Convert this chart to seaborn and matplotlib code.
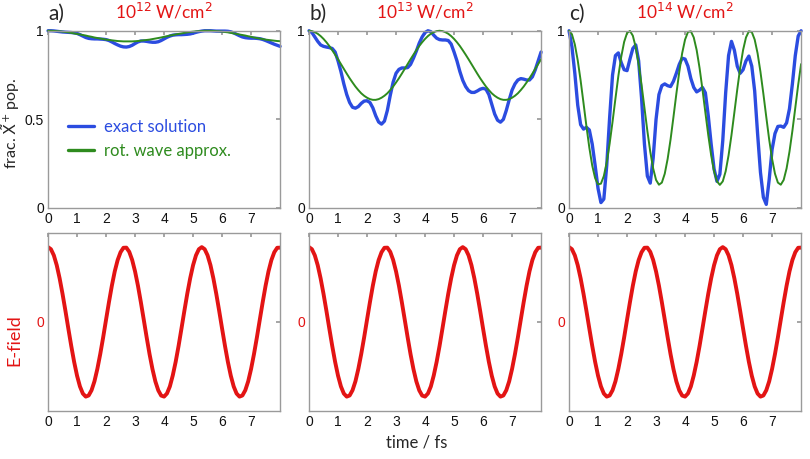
import numpy as np
import pandas as pd
import matplotlib.pyplot as plt
import seaborn as sns

# sample times (fs)
time_fs = np.linspace(0, 8, 81)

# E-field (arbitrary units), same in all three columns
efield = [1.000, 0.972, 0.890, 0.758, 0.582, 0.375, 0.148, -0.089, -0.320, -0.534,
          -0.718, -0.862, -0.957, -0.998, -0.983, -0.913, -0.794, -0.628, -0.429, -0.207,
          0.030, 0.264, 0.484, 0.676, 0.827, 0.932, 0.991, 0.993, 0.937, 0.829,
          0.675, 0.484, 0.264, 0.030, -0.206, -0.431, -0.630, -0.795, -0.914, -0.984,
          -0.998, -0.956, -0.862, -0.715, -0.533, -0.321, -0.088, 0.148, 0.377, 0.583,
          0.758, 0.890, 0.972, 1.000, 0.972, 0.890, 0.758, 0.582, 0.375, 0.148,
          -0.089, -0.320, -0.534, -0.718, -0.862, -0.957, -0.998, -0.983, -0.913, -0.794,
          -0.628, -0.429, -0.207, 0.030, 0.264, 0.484, 0.676, 0.827, 0.932, 0.991, 0.993]

# a) 1e12 W/cm2
exact_a = [1.000, 1.000, 0.999, 0.997, 0.995, 0.993, 0.992, 0.991, 0.990, 0.988,
           0.985, 0.978, 0.970, 0.962, 0.957, 0.955, 0.954, 0.954, 0.953, 0.952,
           0.950, 0.945, 0.937, 0.928, 0.920, 0.913, 0.909, 0.908, 0.911, 0.918,
           0.928, 0.937, 0.942, 0.942, 0.940, 0.937, 0.935, 0.935, 0.938, 0.945,
           0.954, 0.963, 0.970, 0.975, 0.977, 0.978, 0.978, 0.979, 0.980, 0.982,
           0.986, 0.991, 0.995, 0.998, 1.000, 1.000, 1.000, 0.999, 0.998, 0.998,
           0.998, 0.998, 0.997, 0.994, 0.988, 0.980, 0.972, 0.965, 0.961, 0.959,
           0.958, 0.958, 0.957, 0.955, 0.951, 0.945, 0.938, 0.931, 0.924, 0.918, 0.912]
rwa_a = [1.000, 1.000, 0.999, 0.998, 0.997, 0.995, 0.993, 0.991, 0.988, 0.985,
         0.982, 0.979, 0.976, 0.973, 0.969, 0.966, 0.962, 0.959, 0.956, 0.953,
         0.950, 0.948, 0.946, 0.944, 0.942, 0.941, 0.940, 0.940, 0.940, 0.940,
         0.941, 0.942, 0.944, 0.946, 0.948, 0.950, 0.953, 0.956, 0.959, 0.962,
         0.966, 0.969, 0.973, 0.976, 0.979, 0.982, 0.985, 0.988, 0.991, 0.993,
         0.995, 0.997, 0.998, 0.999, 1.000, 1.000, 1.000, 0.999, 0.998, 0.997,
         0.995, 0.993, 0.991, 0.988, 0.985, 0.982, 0.979, 0.976, 0.973, 0.969,
         0.966, 0.962, 0.959, 0.956, 0.953, 0.950, 0.948, 0.946, 0.944, 0.942, 0.941]

# b) 1e13 W/cm2
exact_b = [1.000, 0.990, 0.965, 0.940, 0.920, 0.912, 0.908, 0.905, 0.900, 0.880,
           0.830, 0.770, 0.700, 0.640, 0.595, 0.568, 0.563, 0.572, 0.590, 0.603,
           0.605, 0.595, 0.565, 0.520, 0.485, 0.473, 0.490, 0.550, 0.635, 0.710,
           0.760, 0.782, 0.790, 0.790, 0.792, 0.810, 0.845, 0.885, 0.930, 0.965,
           0.990, 1.000, 0.995, 0.975, 0.958, 0.950, 0.948, 0.948, 0.945, 0.925,
           0.880, 0.830, 0.770, 0.720, 0.685, 0.662, 0.652, 0.652, 0.660, 0.670,
           0.675, 0.670, 0.640, 0.585, 0.530, 0.495, 0.484, 0.500, 0.550, 0.610,
           0.665, 0.700, 0.722, 0.730, 0.727, 0.722, 0.722, 0.740, 0.780, 0.830, 0.880]
rwa_b = [1.000, 0.998, 0.992, 0.983, 0.970, 0.954, 0.935, 0.914, 0.890, 0.865,
         0.839, 0.812, 0.785, 0.758, 0.732, 0.708, 0.685, 0.665, 0.647, 0.633,
         0.622, 0.614, 0.610, 0.610, 0.614, 0.622, 0.633, 0.647, 0.665, 0.685,
         0.708, 0.732, 0.758, 0.785, 0.812, 0.839, 0.865, 0.890, 0.914, 0.935,
         0.954, 0.970, 0.983, 0.992, 0.998, 1.000, 0.998, 0.992, 0.983, 0.970,
         0.954, 0.935, 0.914, 0.890, 0.865, 0.839, 0.812, 0.785, 0.758, 0.732,
         0.708, 0.685, 0.665, 0.647, 0.633, 0.622, 0.614, 0.610, 0.610, 0.614,
         0.622, 0.633, 0.647, 0.665, 0.685, 0.708, 0.732, 0.758, 0.785, 0.812, 0.839]

# c) 1e14 W/cm2
exact_c = [1.000, 0.910, 0.760, 0.580, 0.470, 0.445, 0.455, 0.440, 0.360, 0.240,
           0.110, 0.030, 0.050, 0.240, 0.510, 0.750, 0.860, 0.875, 0.820, 0.780,
           0.775, 0.840, 0.900, 0.920, 0.830, 0.620, 0.360, 0.180, 0.140, 0.280,
           0.500, 0.640, 0.690, 0.700, 0.690, 0.685, 0.715, 0.760, 0.810, 0.845,
           0.840, 0.800, 0.730, 0.680, 0.655, 0.665, 0.680, 0.650, 0.520, 0.360,
           0.220, 0.150, 0.190, 0.380, 0.650, 0.860, 0.940, 0.890, 0.800, 0.760,
           0.780, 0.830, 0.857, 0.800, 0.660, 0.420, 0.200, 0.060, 0.020, 0.160,
           0.330, 0.420, 0.460, 0.462, 0.455, 0.480, 0.560, 0.700, 0.860, 0.970, 1.000]
rwa_c = [1.000, 0.980, 0.923, 0.833, 0.719, 0.591, 0.461, 0.340, 0.239, 0.168,
         0.133, 0.137, 0.180, 0.257, 0.363, 0.486, 0.617, 0.744, 0.853, 0.937,
         0.987, 0.999, 0.972, 0.907, 0.812, 0.695, 0.565, 0.435, 0.318, 0.223,
         0.158, 0.131, 0.143, 0.193, 0.277, 0.386, 0.513, 0.644, 0.767, 0.873,
         0.950, 0.993, 0.997, 0.962, 0.891, 0.790, 0.669, 0.539, 0.411, 0.297,
         0.207, 0.150, 0.130, 0.150, 0.207, 0.297, 0.411, 0.539, 0.669, 0.790,
         0.891, 0.962, 0.997, 0.993, 0.950, 0.873, 0.767, 0.644, 0.513, 0.386,
         0.277, 0.193, 0.143, 0.131, 0.158, 0.223, 0.318, 0.435, 0.565, 0.695, 0.812]

panel_letters = ["a)", "b)", "c)"]
intensity_exp = ["12", "13", "14"]
x_ticks = [0, 1, 2, 3, 4, 5, 6, 7]

df = pd.DataFrame({
    "time": time_fs, "efield": efield,
    "exact_a": exact_a, "rwa_a": rwa_a,
    "exact_b": exact_b, "rwa_b": rwa_b,
    "exact_c": exact_c, "rwa_c": rwa_c,
})

sns.set_theme(style="white")
plt.rcParams["font.family"] = ["Liberation Sans", "DejaVu Sans"]
text_font = ["Lato", "DejaVu Sans"]

blue = "#2b4ce0"
green = "#2e8b1e"
red = "#e31414"
spine_gray = "#9a9a9a"

fig = plt.figure(figsize=(8.1, 4.59), dpi=100)
lefts = [0.0593, 0.3815, 0.7025]
w = 0.2865

for i, key in enumerate(["a", "b", "c"]):
    ax = fig.add_axes([lefts[i], 0.547, w, 0.386])
    if i == 0:
        sns.lineplot(data=df, x="time", y="exact_" + key, ax=ax, color=blue, lw=2.4, label="exact solution")
        sns.lineplot(data=df, x="time", y="rwa_" + key, ax=ax, color=green, lw=1.4, label="rot. wave approx.")
    else:
        sns.lineplot(data=df, x="time", y="exact_" + key, ax=ax, color=blue, lw=2.4)
        sns.lineplot(data=df, x="time", y="rwa_" + key, ax=ax, color=green, lw=1.4)
    for ln in ax.get_lines():
        ln.set_clip_on(False)
    ax.set_xlim(0, 8)
    ax.set_ylim(0, 1)
    ax.set_xticks(x_ticks)
    ax.set_yticks([0, 0.5, 1])
    ax.set_ylabel("")
    if i == 0:
        ax.set_yticklabels(["0", "0.5", "1"])
        leg = ax.legend(loc="center left", bbox_to_anchor=(0.02, 0.39), frameon=False,
                        handlelength=1.6, handletextpad=0.6, labelspacing=0.45,
                        prop={"family": text_font, "size": 12}, labelcolor="linecolor")
        for h in leg.legend_handles:
            h.set_linewidth(2.4)
    else:
        ax.set_yticklabels(["0", "", "1"])
    ax.set_xlabel("")
    ax.set_title("10$^{" + intensity_exp[i] + "}$ W/cm$^2$", color=red, family=text_font,
                 fontsize=12.5, pad=9)
    ax.text(0.0, 1.04, panel_letters[i], transform=ax.transAxes, fontsize=15,
            family=text_font, ha="left", va="bottom")

    axb = fig.add_axes([lefts[i], 0.1046, w, 0.388])
    sns.lineplot(data=df, x="time", y="efield", ax=axb, color=red, lw=2.8)
    axb.set_xlim(0, 8)
    axb.set_ylim(-1.19, 1.19)
    axb.set_xticks(x_ticks)
    axb.set_yticks([0])
    axb.set_yticklabels(["0"], color=red)
    axb.set_xlabel("")
    axb.set_ylabel("")

    for a in (ax, axb):
        for sp in a.spines.values():
            sp.set_color(spine_gray)
            sp.set_linewidth(1.0)
        a.tick_params(direction="in", length=3, color=spine_gray, top=True, right=True,
                      labelsize=10, pad=3, labelcolor="#111111")
    axb.tick_params(axis="y", labelcolor=red)

# axis labels placed in figure coordinates
fig.text(0.0135, 0.732, r"frac. $\tilde{\mathrm{X}}^{+}$ pop.", rotation=90, ha="center", va="center",
         family=text_font, fontsize=11.5)
fig.text(0.018, 0.26, "E-field", rotation=90, ha="center", va="center", color=red,
         family=text_font, fontsize=13)
fig.text(0.515, 0.035, "time / fs", ha="center", va="center", family=text_font, fontsize=12)

fig.savefig("out.png", dpi=100)
